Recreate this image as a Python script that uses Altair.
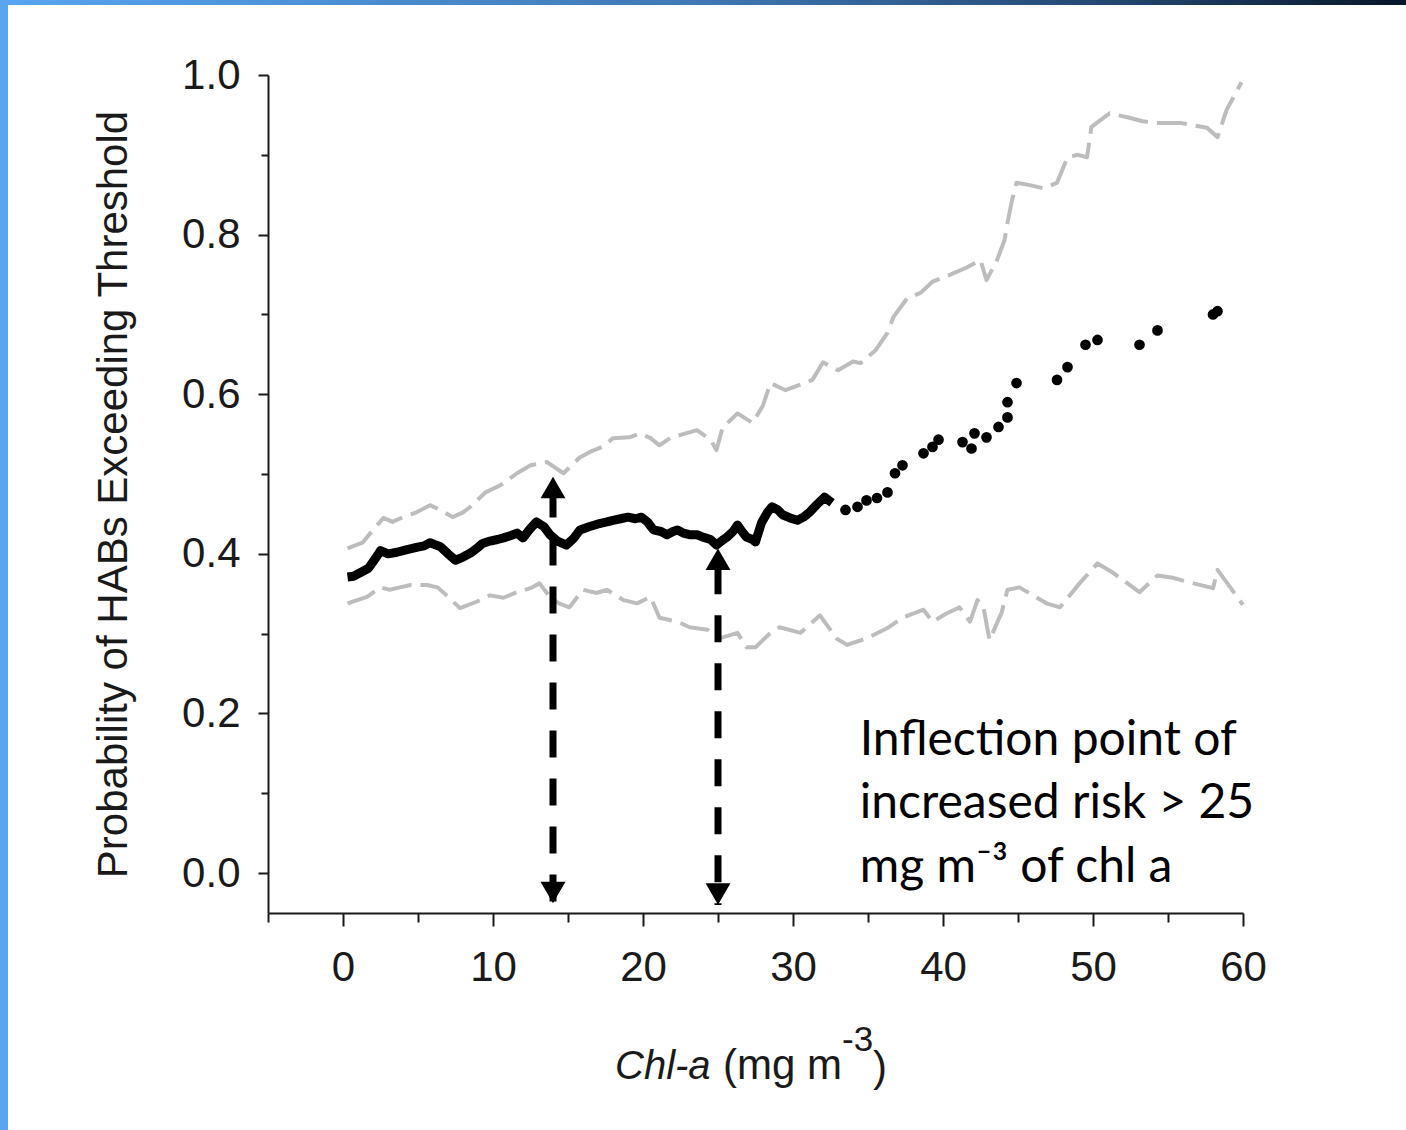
import altair as alt
import pandas as pd

# ---------------- data ----------------
# median probability curve (dense part, drawn as a thick line)
black_x = [0.3, 0.7, 1.3, 1.7, 2.0, 2.3, 2.5, 3.0, 3.6, 4.2, 4.9, 5.4, 5.8, 6.2, 6.5,
           7.0, 7.5, 8.0, 8.5, 9.0, 9.3, 9.8, 10.3, 10.7, 11.2, 11.6, 12.0, 12.5, 12.9, 13.4,
           13.8, 14.3, 14.9, 15.4, 15.8, 16.4, 17.1, 17.6, 18.0, 18.5, 19.0, 19.5, 19.9, 20.3, 20.7,
           21.2, 21.6, 22.0, 22.3, 22.7, 23.1, 23.6, 24.0, 24.5, 24.9, 25.3, 25.6, 26.0, 26.3, 26.6,
           26.9, 27.3, 27.5, 27.9, 28.3, 28.6, 29.0, 29.3, 29.8, 30.3, 30.7, 31.1, 31.6, 32.1, 32.6]
black_y = [0.371, 0.372, 0.378, 0.382, 0.390, 0.398, 0.404, 0.400, 0.402, 0.405, 0.408, 0.410, 0.414, 0.411, 0.409,
           0.400, 0.392, 0.396, 0.401, 0.408, 0.413, 0.416, 0.418, 0.420, 0.423, 0.426, 0.420, 0.432, 0.440, 0.434,
           0.424, 0.416, 0.411, 0.420, 0.430, 0.434, 0.438, 0.440, 0.442, 0.444, 0.446, 0.444, 0.446, 0.440, 0.430,
           0.428, 0.424, 0.428, 0.430, 0.426, 0.424, 0.424, 0.421, 0.418, 0.411, 0.417, 0.421, 0.428, 0.436, 0.428,
           0.421, 0.418, 0.415, 0.439, 0.452, 0.459, 0.455, 0.449, 0.445, 0.442, 0.446, 0.452, 0.462, 0.471, 0.464]

# median probability (sparse part, drawn as dots)
dot_x = [33.5, 34.3, 34.9, 35.6, 36.3, 36.8, 37.3, 38.7, 39.3, 39.7, 41.3, 41.9, 42.1, 42.9, 43.7,
         44.3, 44.3, 44.9, 47.6, 48.3, 49.5, 50.3, 53.1, 54.3, 58.0, 58.3]
dot_y = [0.455, 0.459, 0.467, 0.470, 0.477, 0.501, 0.511, 0.526, 0.534, 0.543, 0.540, 0.532, 0.551, 0.546, 0.559,
         0.571, 0.590, 0.614, 0.618, 0.634, 0.662, 0.668, 0.662, 0.680, 0.700, 0.704]

# upper confidence bound (grey)
upper_x = [0.3, 1.3, 2.0, 2.7, 3.3, 4.0, 4.9, 5.8, 6.5, 7.3, 8.0, 8.5, 9.5, 10.5, 11.6,
           12.5, 13.6, 14.7, 15.3, 15.8, 16.5, 17.3, 18.0, 19.1, 19.8, 20.5, 21.1, 21.8, 22.5, 23.6,
           24.5, 24.9, 25.3, 26.3, 27.3, 28.0, 28.5, 29.5, 30.5, 31.3, 32.0, 33.0, 34.0, 34.5, 35.5,
           36.3, 36.7, 37.6, 38.5, 39.3, 40.5, 41.6, 42.5, 42.9, 43.6, 44.1, 44.3, 44.6, 44.9, 45.8,
           46.7, 47.6, 48.3, 49.0, 49.6, 49.9, 51.1, 52.3, 53.3, 54.3, 55.8, 57.6, 58.3, 58.9, 59.9]
upper_y = [0.407, 0.414, 0.430, 0.445, 0.440, 0.446, 0.452, 0.461, 0.455, 0.446, 0.452, 0.459, 0.477, 0.486, 0.501,
           0.511, 0.515, 0.501, 0.512, 0.521, 0.528, 0.534, 0.545, 0.546, 0.551, 0.545, 0.536, 0.545, 0.549, 0.555,
           0.543, 0.530, 0.558, 0.576, 0.564, 0.586, 0.614, 0.605, 0.612, 0.618, 0.640, 0.630, 0.641, 0.639, 0.655,
           0.677, 0.697, 0.720, 0.727, 0.741, 0.750, 0.759, 0.768, 0.743, 0.768, 0.793, 0.815, 0.843, 0.865, 0.862,
           0.858, 0.865, 0.897, 0.900, 0.897, 0.935, 0.952, 0.947, 0.942, 0.940, 0.940, 0.934, 0.922, 0.956, 0.991]

# lower confidence bound (grey)
lower_x = [0.3, 1.6, 2.5, 3.1, 3.8, 4.5, 5.6, 6.3, 6.9, 7.8, 8.9, 9.8, 10.7, 11.6, 12.5,
           13.1, 13.8, 14.4, 15.1, 16.0, 16.9, 17.6, 18.7, 19.6, 20.5, 21.1, 22.3, 23.1, 24.3, 25.1,
           26.3, 26.9, 27.5, 28.5, 29.1, 30.5, 31.8, 32.9, 33.6, 34.9, 36.3, 37.3, 38.7, 39.3, 40.2,
           41.1, 41.8, 42.3, 42.7, 43.1, 43.9, 44.3, 45.1, 46.0, 46.9, 47.8, 49.1, 50.3, 51.2, 52.0,
           53.1, 54.3, 55.3, 56.3, 58.0, 58.3, 58.8, 60.0]
lower_y = [0.338, 0.346, 0.358, 0.355, 0.358, 0.361, 0.361, 0.358, 0.348, 0.332, 0.340, 0.348, 0.345, 0.352, 0.357,
           0.363, 0.346, 0.338, 0.333, 0.355, 0.351, 0.355, 0.342, 0.338, 0.346, 0.320, 0.315, 0.308, 0.305, 0.294,
           0.301, 0.283, 0.283, 0.301, 0.308, 0.301, 0.323, 0.294, 0.286, 0.294, 0.307, 0.320, 0.330, 0.315, 0.325,
           0.333, 0.315, 0.342, 0.333, 0.292, 0.326, 0.355, 0.358, 0.348, 0.338, 0.333, 0.363, 0.388, 0.378, 0.367,
           0.352, 0.373, 0.370, 0.365, 0.357, 0.380, 0.367, 0.336]

# dashed double arrows
arrow_x = [14.0, 25.0]
arrow_top = [0.497, 0.407]
arrow_bottom = [-0.038, -0.040]

# axis ticks
x_ticks = [-5, 0, 5, 10, 15, 20, 25, 30, 35, 40, 45, 50, 55, 60]
y_ticks = [0.0, 0.1, 0.2, 0.3, 0.4, 0.5, 0.6, 0.7, 0.8, 0.9, 1.0]

# annotation text
note_lines = ["Inflection point of", "increased risk > 25", "mg m\u207b\u00b3 of chl a"]
note_x = [34.45, 34.45, 34.45]
note_y = [0.148, 0.069, -0.011]

y_title = "Probability of HABs Exceeding Threshold"

# ---------------- chart ----------------
FONT = "Liberation Sans"
INK = "#1a1a1a"

xaxis = alt.Axis(
    values=x_ticks, format="d",
    labelExpr="datum.value >= 0 && datum.value % 10 === 0 ? datum.label : ''",
    tickSize={"condition": {"test": "datum.value % 10 === 0", "value": 13}, "value": 9},
    tickWidth=2, tickColor=INK, domainColor=INK, domainWidth=2,
    labelFont=FONT, labelFontSize=42, labelColor=INK, labelPadding=21,
    labelOverlap=False, labelFlush=False, grid=False,
)
yaxis = alt.Axis(
    values=y_ticks,
    labelExpr="round(datum.value * 10) % 2 === 0 ? format(datum.value, '.1f') : ''",
    tickSize={"condition": {"test": "round(datum.value * 10) % 2 === 0", "value": 10}, "value": 7},
    tickWidth=2, tickColor=INK, domainColor=INK, domainWidth=2,
    labelFont=FONT, labelFontSize=42, labelColor=INK, labelPadding=18,
    labelOverlap=False, labelFlush=False, grid=False,
    titleFont=FONT, titleFontSize=42, titleFontWeight="normal", titleColor=INK, titlePadding=46,
)

X = alt.X("x:Q", scale=alt.Scale(domain=[-5, 60], nice=False, zero=False), axis=xaxis, title=None)
Y = alt.Y("y:Q", scale=alt.Scale(domain=[-0.05, 1.0], nice=False, zero=False), axis=yaxis, title=y_title)

one = pd.DataFrame({"k": [0]})

# decorative slide frame (blue gradient bar on top, blue bar on left)
top_bar = alt.Chart(one).mark_rect(
    fill=alt.LinearGradient(
        gradient="linear", x1=0, x2=1, y1=0, y2=0,
        stops=[alt.GradientStop(color="#57a5ef", offset=0),
               alt.GradientStop(color="#3f78b4", offset=0.5),
               alt.GradientStop(color="#23466e", offset=0.8),
               alt.GradientStop(color="#06162a", offset=1)]),
).encode(x=alt.value(-268), x2=alt.value(1138), y=alt.value(-75), y2=alt.value(-70))

left_bar = alt.Chart(one).mark_rect(color="#5aa5ee").encode(
    x=alt.value(-268), x2=alt.value(-260), y=alt.value(-75), y2=alt.value(1055))

upper = alt.Chart(pd.DataFrame({"x": upper_x, "y": upper_y})).mark_line(
    color="#bdbdbd", strokeWidth=4, strokeDash=[30, 9], strokeJoin="round").encode(x=X, y=Y)
lower = alt.Chart(pd.DataFrame({"x": lower_x, "y": lower_y})).mark_line(
    color="#bdbdbd", strokeWidth=4, strokeDash=[30, 9], strokeJoin="round").encode(x=X, y=Y)


def arrow(i, offset):
    d = pd.DataFrame({"x": [arrow_x[i]], "y": [arrow_top[i]], "y2": [arrow_bottom[i]]})
    shaft = alt.Chart(d).mark_rule(color="black", strokeWidth=7, strokeDash=[27, 21],
                                   strokeDashOffset=offset).encode(x=X, y=Y, y2="y2:Q")
    head_up = alt.Chart(pd.DataFrame({"x": [arrow_x[i]], "y": [arrow_top[i]]})).mark_point(
        shape="triangle-up", filled=True, size=620, color="black", opacity=1, yOffset=11
    ).encode(x=X, y=Y)
    head_dn = alt.Chart(pd.DataFrame({"x": [arrow_x[i]], "y": [arrow_bottom[i]]})).mark_point(
        shape="triangle-down", filled=True, size=620, color="black", opacity=1, yOffset=-11
    ).encode(x=X, y=Y)
    return [shaft, head_up, head_dn]


arrows = arrow(0, 34) + arrow(1, 29)

median_line = alt.Chart(pd.DataFrame({"x": black_x, "y": black_y})).mark_line(
    color="black", strokeWidth=9, strokeJoin="round").encode(x=X, y=Y)
median_dots = alt.Chart(pd.DataFrame({"x": dot_x, "y": dot_y})).mark_point(
    shape="circle", filled=True, size=115, color="black", opacity=1).encode(x=X, y=Y)

note = alt.Chart(pd.DataFrame({"x": note_x, "y": note_y, "text": note_lines})).mark_text(
    align="left", baseline="alphabetic", font="Lato", fontSize=48, color="black"
).encode(x=X, y=Y, text="text:N")

# x-axis title with italic part and superscript
xt1 = alt.Chart(one).mark_text(text="Chl-a", align="left", baseline="alphabetic", font=FONT,
                               fontSize=40, fontStyle="italic", color=INK).encode(
    x=alt.value(347), y=alt.value(1004))
xt2 = alt.Chart(one).mark_text(text="(mg m", align="left", baseline="alphabetic", font=FONT,
                               fontSize=42, color=INK).encode(x=alt.value(455), y=alt.value(1004))
xt3 = alt.Chart(one).mark_text(text="-3", align="left", baseline="alphabetic", font=FONT,
                               fontSize=35, color=INK).encode(x=alt.value(574), y=alt.value(976))
xt4 = alt.Chart(one).mark_text(text=")", align="left", baseline="alphabetic", font=FONT,
                               fontSize=42, color=INK).encode(x=alt.value(605), y=alt.value(1006))

chart = alt.layer(
    top_bar, left_bar, upper, lower, *arrows, median_line, median_dots, note, xt1, xt2, xt3, xt4
).properties(
    width=975, height=838,
    autosize=alt.AutoSizeParams(type="none"),
    padding={"left": 268, "top": 75, "right": 163, "bottom": 217},
    background="white",
).configure_view(strokeWidth=0)

chart.save("out.html", embed_options={"renderer": "svg", "actions": False})
